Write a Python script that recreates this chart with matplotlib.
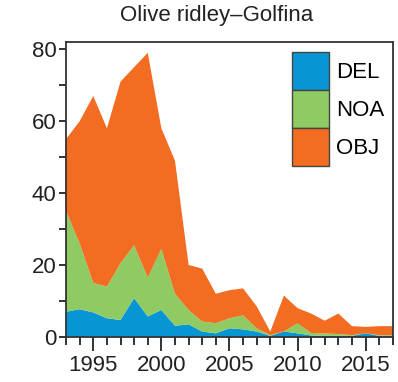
import matplotlib
matplotlib.use("Agg")
import matplotlib.pyplot as plt
from matplotlib.patches import Patch
from matplotlib.ticker import MultipleLocator

plt.rcParams['font.family'] = ['Liberation Sans', 'DejaVu Sans']

# yearly counts per category
years = list(range(1993, 2018))
del_counts = [7, 7.7, 6.8, 5.2, 4.7, 10.8, 5.7, 7.5, 3.1, 3.5, 1.5, 1, 2.4, 2.1, 1.5,
              0.3, 1.5, 1, 0.4, 0.3, 0.3, 0.3, 1, 0.3, 0.3]
noa_counts = [28, 18.3, 8.2, 8.8, 15.8, 14.7, 10.8, 17, 8.9, 4, 2.8, 2.8, 2.8, 3.9, 0.9,
              0.2, 0, 2.8, 0.7, 0.7, 0.5, 0.2, 0, 0.2, 0.2]
obj_counts = [20, 34, 52, 44, 50.5, 49.5, 62.5, 33.5, 37, 12.5, 14.7, 8.2, 7.8, 7.5, 6.1,
              1, 10, 4.2, 5.4, 3.5, 5.7, 2.5, 1.8, 2.5, 2.5]
labels = ['DEL', 'NOA', 'OBJ']
colors = ['#0796d3', '#8fca63', '#f26c22']

fig = plt.figure(figsize=(3.98, 3.82), dpi=100)
ax = fig.add_axes([0.166, 0.118, 0.821, 0.772])

ax.stackplot(years, del_counts, noa_counts, obj_counts, colors=colors, linewidth=0)

ax.set_xlim(1993, 2017)
ax.set_ylim(0, 82)
ax.xaxis.set_major_locator(MultipleLocator(5))
ax.xaxis.set_minor_locator(MultipleLocator(1))
ax.yaxis.set_major_locator(MultipleLocator(20))
ax.yaxis.set_minor_locator(MultipleLocator(10))
ax.tick_params(axis='both', which='both', direction='out', width=1.3, color='#222222',
               labelsize=16, labelcolor='#222222')
ax.tick_params(axis='x', which='major', length=10, pad=3)
ax.tick_params(axis='x', which='minor', length=6)
ax.tick_params(axis='y', which='major', length=5, pad=2)
ax.tick_params(axis='y', which='minor', length=5)
for sp in ax.spines.values():
    sp.set_linewidth(1.3)
    sp.set_color('#333333')

handles = [Patch(facecolor=c, edgecolor='#444444', linewidth=1) for c in colors]
ax.legend(handles, labels, loc='upper left', bbox_to_anchor=(292 / 398, 1 - 52 / 382),
          bbox_transform=fig.transFigure, frameon=False, fontsize=16, borderpad=0,
          handlelength=1.67, handleheight=2.26, labelspacing=0, handletextpad=0.3,
          borderaxespad=0)

fig.text(217 / 398, 1 - 15 / 382, 'Olive ridley\u2013Golfina', ha='center', va='center',
         fontsize=16, color='#222222')

fig.savefig('out.png', dpi=100)
